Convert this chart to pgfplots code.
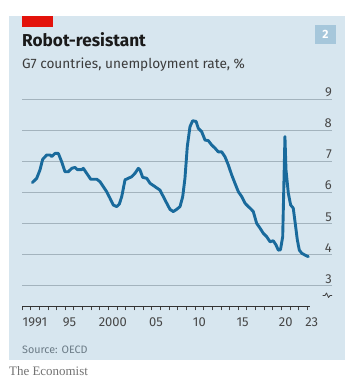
\documentclass[border=0pt]{standalone}
\usepackage{fontspec}
\setmainfont{Fira Sans}
\newfontfamily\econserif{Liberation Serif}
\usepackage{pgfplots}
\pgfplotsset{compat=1.18}
\definecolor{panel}{HTML}{D7E6EF}
\definecolor{econred}{HTML}{E3120B}
\definecolor{lineblue}{HTML}{196A9C}
\definecolor{gridc}{HTML}{A3B3BD}
\definecolor{boxc}{HTML}{A6C7DB}
\definecolor{txt}{HTML}{1A1A1A}
\definecolor{srcc}{HTML}{6B7B86}
\begin{document}
\begin{tikzpicture}[x=1bp,y=1bp]
\fill[white] (0,0) rectangle (353,385);
\fill[panel] (9,25) rectangle (345,369);
\fill[econred] (22,358.3) rectangle (53,369);
\fill[boxc] (315,341) rectangle (336,360);
\node[anchor=center,text=white,font=\fontsize{12}{12}\selectfont\bfseries,inner sep=0pt] at (325.5,350.5) {2};
\node[anchor=base west,inner sep=0pt,text=txt,font=\fontsize{17.3}{19}\selectfont\bfseries] at (22,338.3) {Robot-resistant};
\node[anchor=base west,inner sep=0pt,text=txt!85,font=\fontsize{13.7}{15}\selectfont] at (22,317) {G7 countries, unemployment rate, \%};
\node[anchor=base west,inner sep=0pt,text=srcc,font=\fontsize{10.8}{12}\selectfont] at (22,32) {Source: OECD};
\node[anchor=base west,inner sep=0pt,text=black!55,font=\econserif\fontsize{13}{14}\selectfont] at (9,10) {The Economist};
\begin{axis}[
  at={(22bp,78.3bp)}, anchor=south west,
  scale only axis, width=310bp, height=207.7bp,
  xmin=1990, xmax=2025.84, ymin=2.32, ymax=9,
  clip=false,
  axis line style={draw=none},
  xtick={1991.5,1995.5,2000.5,2005.5,2010.5,2015.5,2020.5,2023.5},
  xticklabels={1991,95,2000,05,10,15,20,23},
  minor xtick={1990,1991,...,2023},
  xtick pos=lower,
  ytick={3,4,5,6,7,8,9},
  ytick pos=upper, yticklabel pos=upper,
  ymajorgrids,
  major grid style={gridc,line width=0.9bp},
  major tick length=0pt,
  minor tick length=3.6bp,
  tick align=outside,
  every tick/.style={black!75,line width=0.8bp},
  minor tick style={black!75,line width=0.8bp},
  tick label style={font=\fontsize{13}{14}\selectfont,text=black!72},
  /pgf/number format/assume math mode=true,
  xticklabel style={anchor=base,inner sep=0pt,yshift=-20.3bp},
  yticklabel style={anchor=south east,inner sep=0pt,xshift=0bp,yshift=2bp},
]
\addplot[lineblue,line width=2.9bp,line join=round,line cap=round] coordinates {
(1991.19,6.31)(1991.70,6.45)(1992.08,6.72)(1992.39,7.06)(1992.86,7.2)(1993.24,7.2)
(1993.43,7.15)(1993.82,7.25)(1994.20,7.25)(1994.59,6.98)(1994.97,6.66)(1995.35,6.66)
(1995.75,6.77)(1996.13,6.8)(1996.39,6.73)(1996.90,6.73)(1997.09,6.77)(1997.48,6.61)
(1997.94,6.42)(1998.64,6.42)(1999.02,6.34)(1999.40,6.18)(1999.79,6.02)(2000.17,5.81)
(2000.55,5.59)(2000.95,5.54)(2001.25,5.62)(2001.53,5.86)(2001.91,6.4)(2002.29,6.45)
(2002.68,6.5)(2003.06,6.61)(2003.45,6.77)(2003.64,6.72)(2003.95,6.48)(2004.42,6.45)
(2004.80,6.29)(2005.38,6.18)(2005.95,6.07)(2006.34,5.86)(2006.73,5.65)(2007.11,5.45)
(2007.49,5.38)(2007.88,5.45)(2008.27,5.54)(2008.58,5.86)(2008.84,6.45)(2009.11,7.47)
(2009.42,8.11)(2009.73,8.3)(2010.12,8.28)(2010.38,8.06)(2010.77,7.95)(2011.16,7.68)
(2011.54,7.66)(2011.93,7.52)(2012.31,7.42)(2012.69,7.3)(2013.09,7.3)(2013.47,7.14)
(2013.85,6.88)(2014.24,6.56)(2014.62,6.29)(2015.01,6.02)(2015.40,5.86)(2015.78,5.65)
(2016.16,5.54)(2016.36,5.49)(2016.74,5.38)(2017.13,5.0)(2017.51,4.85)(2017.90,4.68)
(2018.29,4.57)(2018.67,4.41)(2019.05,4.44)(2019.36,4.31)(2019.63,4.14)(2019.88,4.15)
(2020.14,4.57)(2020.40,7.79)(2020.52,6.72)(2020.79,5.97)(2021.06,5.59)(2021.36,5.49)
(2021.64,4.89)(2021.83,4.47)(2022.06,4.14)(2022.34,4.04)(2022.72,3.98)(2023.10,3.93)
};
\draw[black!80,line width=0.9bp] (axis cs:1990,2.32) -- (axis cs:2023.3,2.32);
\end{axis}
\draw[black!75,line width=0.8bp,line join=round] (322.5,89.5) -- (325,89.5) -- (326.5,92) -- (328.5,87.5) -- (330,89.5) -- (332,89.5);
\end{tikzpicture}
\end{document}
